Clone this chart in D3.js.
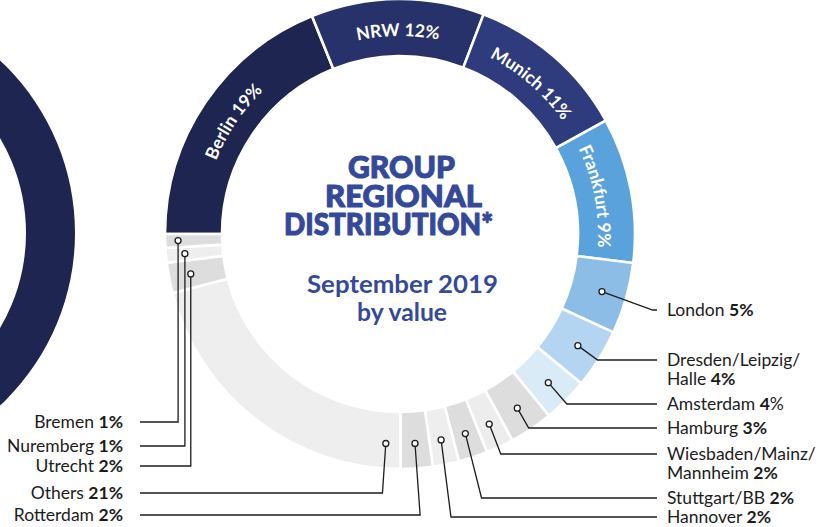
<!DOCTYPE html>
<html>
<head>
<meta charset="utf-8">
<script src="https://cdn.jsdelivr.net/npm/d3@7"></script>
<style>
  html, body { margin: 0; padding: 0; background: #ffffff; }
  svg { display: block; }
</style>
</head>
<body>
<svg id="chart" width="817" height="527"></svg>
<script>
// ---------------- DATA ----------------
const regions = ["Berlin", "NRW", "Munich", "Frankfurt", "London", "Dresden/Leipzig/Halle",
  "Amsterdam", "Hamburg", "Wiesbaden/Mainz/Mannheim", "Stuttgart/BB", "Hannover",
  "Rotterdam", "Others", "Utrecht", "Nuremberg", "Bremen"];
// share of each slice as drawn (percent of the ring)
const shares = [18.9, 11.9, 11.2, 10.0, 4.9, 4.1, 3.1, 3.0, 1.9, 2.0, 1.8, 2.2, 21.0, 2.1, 1.0, 0.95];
// percentages printed in the labels
const pctLabels = ["19%", "12%", "11%", "9%", "5%", "4%", "4%", "3%", "2%", "2%", "2%", "2%", "21%", "2%", "1%", "1%"];
// label text lines (name part)
const labelLines = [["Berlin"], ["NRW"], ["Munich"], ["Frankfurt"], ["London"], ["Dresden/Leipzig/", "Halle"],
  ["Amsterdam"], ["Hamburg"], ["Wiesbaden/Mainz/", "Mannheim"], ["Stuttgart/BB"], ["Hannover"],
  ["Rotterdam"], ["Others"], ["Utrecht"], ["Nuremberg"], ["Bremen"]];
const titleLines = ["GROUP", "REGIONAL", "DISTRIBUTION*"];
const subtitleLines = ["September 2019", "by value"];

// ---------------- STYLE / LAYOUT ----------------
const palette = ["#1e2550", "#28326a", "#2e3b7d", "#5aa2dc", "#8bbde7", "#b4d5f1", "#daebf8",
  "#dcdddc", "#ededed", "#dcdddc", "#eeeeee", "#dcdddc", "#eeeeee", "#dcdddc", "#eeeeee", "#dcdddc"];
const color = d3.scaleOrdinal(regions, palette);
const inside = new Set(["Berlin", "NRW", "Munich", "Frankfurt"]);

const cx = 400, cy = 234, R = 235, r0 = 178;
const FONT = "Lato, 'PT Sans', 'Noto Sans', sans-serif";
const textColor = "#1c1c1c";
const titleColor = "#35499b";

// label rows for the callouts (y of the horizontal leader) and side
const rowLayout = {
  "London": {y: 310, side: "right"},
  "Dresden/Leipzig/Halle": {y: 360, side: "right"},
  "Amsterdam": {y: 404, side: "right"},
  "Hamburg": {y: 428, side: "right"},
  "Wiesbaden/Mainz/Mannheim": {y: 454, side: "right"},
  "Stuttgart/BB": {y: 498, side: "right"},
  "Hannover": {y: 517, side: "right"},
  "Rotterdam": {y: 515, side: "left"},
  "Others": {y: 493, side: "left", dotAtStart: 0.07},
  "Utrecht": {y: 466, side: "left", vertical: true, dotR: 213},
  "Nuremberg": {y: 446, side: "left", vertical: true, dotR: 216},
  "Bremen": {y: 422, side: "left", vertical: true, dotR: 222}
};
const rightLineEnd = 657, rightTextX = 667, leftLineEnd = 140, leftTextX = 123;

const svg = d3.select("#chart");

// partial ring of the neighbouring chart on the left
svg.append("path")
  .attr("transform", "translate(-161,233)")
  .attr("d", d3.arc().innerRadius(187).outerRadius(236)({startAngle: 0, endAngle: 2 * Math.PI}))
  .attr("fill", "#1e2550");

const g = svg.append("g").attr("transform", `translate(${cx},${cy})`);

const pie = d3.pie().value(d => d.share).sort(null)
  .startAngle(-Math.PI / 2).endAngle(3 * Math.PI / 2);
const data = regions.map((name, i) => ({name, share: shares[i], pct: pctLabels[i], lines: labelLines[i]}));
const arcs = pie(data);

const arc = d3.arc().innerRadius(r0).outerRadius(R);

g.selectAll("path.slice").data(arcs).join("path")
  .attr("class", "slice")
  .attr("d", arc)
  .attr("fill", d => color(d.data.name))
  .attr("stroke", "#ffffff")
  .attr("stroke-width", 2.6)
  .attr("stroke-linejoin", "miter");

// curved labels inside the dark slices
const rb = 198;
const defs = svg.append("defs");
arcs.filter(d => inside.has(d.data.name)).forEach((d, i) => {
  const a0 = d.startAngle, a1 = d.endAngle;
  const x0 = rb * Math.sin(a0), y0 = -rb * Math.cos(a0);
  const x1 = rb * Math.sin(a1), y1 = -rb * Math.cos(a1);
  defs.append("path").attr("id", "lp" + i)
    .attr("d", `M${x0},${y0} A${rb},${rb} 0 0 1 ${x1},${y1}`)
    .attr("transform", `translate(${cx},${cy})`);
  svg.append("text")
    .attr("font-family", FONT).attr("font-weight", 700).attr("font-size", 17.5)
    .attr("fill", "#ffffff")
    .append("textPath")
    .attr("href", "#lp" + i)
    .attr("startOffset", "50%")
    .attr("text-anchor", "middle")
    .text(d.data.lines[0] + " " + d.data.pct);
});

// centre title
const titleX = [348, 325, 284], titleW = [107, 157, 209], titleY = [178, 207, 235];
titleLines.forEach((t, i) => {
  svg.append("text")
    .attr("x", titleX[i]).attr("y", titleY[i])
    .attr("font-family", "Lato, Roboto, sans-serif").attr("font-weight", 900)
    .attr("font-size", 31).attr("fill", titleColor)
    .attr("stroke", titleColor).attr("stroke-width", 1.1).attr("stroke-linejoin", "round")
    .attr("textLength", titleW[i]).attr("lengthAdjust", "spacingAndGlyphs")
    .text(t);
});
const subX = [307, 357], subW = [191, 90], subY = [293, 321];
subtitleLines.forEach((t, i) => {
  svg.append("text")
    .attr("x", subX[i]).attr("y", subY[i])
    .attr("font-family", FONT).attr("font-weight", 700).attr("font-size", 24.5)
    .attr("fill", titleColor)
    .attr("textLength", subW[i]).attr("lengthAdjust", "spacingAndGlyphs")
    .text(t);
});

// callouts
const lineColor = "#1c1c1c";
const callouts = svg.append("g");
arcs.filter(d => !inside.has(d.data.name)).forEach(d => {
  const L = rowLayout[d.data.name];
  let ang = (d.startAngle + d.endAngle) / 2;
  if (L.dotAtStart !== undefined) ang = d.startAngle + L.dotAtStart;
  const dr = L.dotR || 210;
  const px = cx + dr * Math.sin(ang), py = cy - dr * Math.cos(ang);
  let pts;
  if (L.vertical) {
    pts = [[px, py], [px, L.y], [leftLineEnd, L.y]];
  } else {
    const dirA = L.side === "right" ? ang + 4 * Math.PI / 180 : ang;
    const ux = Math.sin(dirA), uy = -Math.cos(dirA);
    const ex = px + (L.y - py) * ux / uy;
    pts = [[px, py], [ex, L.y], [L.side === "right" ? rightLineEnd : leftLineEnd, L.y]];
  }
  callouts.append("path")
    .attr("d", d3.line()(pts))
    .attr("fill", "none").attr("stroke", lineColor).attr("stroke-width", 1.3);
  callouts.append("circle")
    .attr("cx", px).attr("cy", py).attr("r", 3)
    .attr("fill", "#ffffff").attr("stroke", lineColor).attr("stroke-width", 1.3);

  const t = callouts.append("text")
    .attr("font-family", FONT).attr("font-size", 17.5).attr("fill", textColor)
    .attr("text-anchor", L.side === "right" ? "start" : "end");
  const tx = L.side === "right" ? rightTextX : leftTextX;
  const lines = d.data.lines;
  lines.forEach((ln, k) => {
    const ts = t.append("tspan").attr("x", tx).attr("y", L.y + k * 19).attr("dy", "0.35em");
    if (k === lines.length - 1) {
      ts.text(ln + " ");
      if (d.data.name === "Amsterdam") {
        ts.append("tspan").attr("font-weight", 700).text(d.data.pct.replace("%", ""));
        ts.append("tspan").text("%");
      } else {
        ts.append("tspan").attr("font-weight", 700).text(d.data.pct);
      }
    } else {
      ts.text(ln);
    }
  });
});
</script>
</body>
</html>
